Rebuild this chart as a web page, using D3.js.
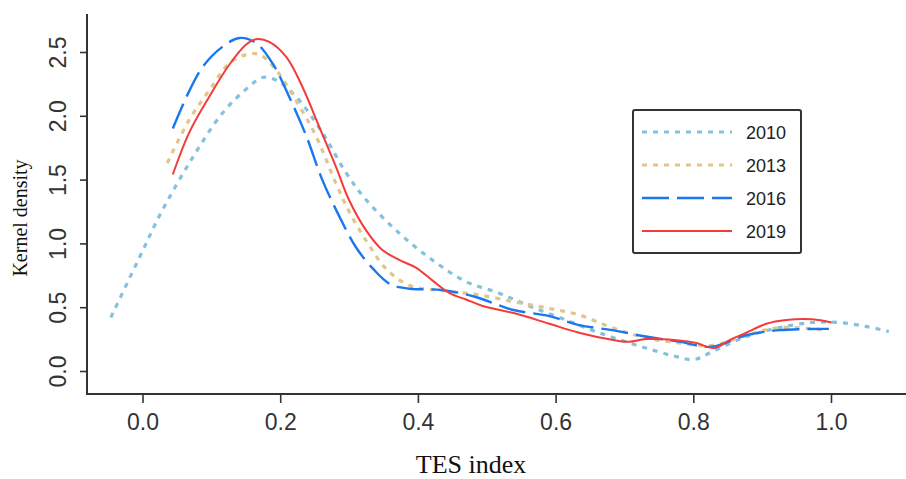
<!DOCTYPE html>
<html>
<head>
<meta charset="utf-8">
<script src="https://cdn.jsdelivr.net/npm/d3@7"></script>
<style>
  html, body { margin: 0; padding: 0; background: #fff; }
  svg { display: block; }
</style>
</head>
<body>
<svg id="chart" width="906" height="479"></svg>
<script>
// Kernel density estimates of the TES index by year
const years = ["2010", "2013", "2016", "2019"];

const x2010 = [-0.046, 0.0, 0.025, 0.068, 0.116, 0.155, 0.174, 0.194, 0.223, 0.261, 0.296, 0.325, 0.373, 0.421, 0.470, 0.518, 0.566, 0.615, 0.653, 0.690, 0.731, 0.770, 0.801, 0.827, 0.877, 0.925, 0.973, 1.012, 1.050, 1.084];
const d2010 = [0.42, 0.94, 1.22, 1.63, 2.02, 2.23, 2.30, 2.28, 2.15, 1.87, 1.55, 1.34, 1.08, 0.87, 0.70, 0.61, 0.50, 0.40, 0.32, 0.25, 0.18, 0.12, 0.09, 0.15, 0.27, 0.34, 0.38, 0.38, 0.35, 0.31];

const x2013 = [0.036, 0.068, 0.097, 0.126, 0.151, 0.170, 0.194, 0.223, 0.252, 0.281, 0.300, 0.325, 0.354, 0.388, 0.435, 0.484, 0.542, 0.591, 0.634, 0.682, 0.731, 0.779, 0.827, 0.877, 0.925, 0.993];
const d2013 = [1.63, 1.97, 2.20, 2.41, 2.48, 2.48, 2.36, 2.12, 1.84, 1.47, 1.25, 1.02, 0.80, 0.67, 0.63, 0.60, 0.54, 0.49, 0.44, 0.34, 0.26, 0.22, 0.20, 0.28, 0.34, 0.32];

const x2016 = [0.044, 0.064, 0.087, 0.116, 0.141, 0.165, 0.189, 0.213, 0.238, 0.261, 0.286, 0.310, 0.335, 0.360, 0.388, 0.435, 0.484, 0.537, 0.591, 0.634, 0.682, 0.731, 0.779, 0.827, 0.877, 0.925, 0.997];
const d2016 = [1.90, 2.15, 2.38, 2.54, 2.61, 2.57, 2.41, 2.15, 1.84, 1.50, 1.21, 0.97, 0.80, 0.68, 0.645, 0.635, 0.58, 0.48, 0.43, 0.36, 0.32, 0.27, 0.23, 0.19, 0.28, 0.32, 0.33];

const x2019 = [0.044, 0.068, 0.097, 0.126, 0.151, 0.165, 0.184, 0.209, 0.232, 0.257, 0.281, 0.300, 0.325, 0.348, 0.373, 0.397, 0.421, 0.446, 0.470, 0.494, 0.542, 0.591, 0.634, 0.682, 0.707, 0.731, 0.779, 0.804, 0.830, 0.852, 0.877, 0.906, 0.935, 0.973, 1.001];
const d2019 = [1.54, 1.87, 2.15, 2.40, 2.56, 2.60, 2.58, 2.46, 2.23, 1.91, 1.60, 1.34, 1.10, 0.95, 0.87, 0.81, 0.71, 0.61, 0.56, 0.51, 0.45, 0.37, 0.30, 0.245, 0.23, 0.25, 0.24, 0.22, 0.18, 0.24, 0.30, 0.37, 0.40, 0.405, 0.38];

const xTicks = [0, 0.2, 0.4, 0.6, 0.8, 1.0];
const yTicks = [0, 0.5, 1.0, 1.5, 2.0, 2.5];

const series = [
  { name: years[0], xs: x2010, ys: d2010, color: "#84c1de", width: 3.2, dash: "5,6" },
  { name: years[1], xs: x2013, ys: d2013, color: "#e2c589", width: 3.2, dash: "5,6" },
  { name: years[2], xs: x2016, ys: d2016, color: "#1a78ef", width: 2.4, dash: "27,8" },
  { name: years[3], xs: x2019, ys: d2019, color: "#f53a3a", width: 2.0, dash: null }
];

const svg = d3.select("#chart");
const x = d3.scaleLinear().domain([0, 1]).range([142.5, 831]);
const y = d3.scaleLinear().domain([0, 2.5]).range([371, 52]);

const axisColor = "#333";
const axisLeftX = 87, axisBottomY = 394;

// Axis lines (L-shaped frame)
svg.append("line").attr("x1", axisLeftX).attr("x2", axisLeftX)
  .attr("y1", 14).attr("y2", axisBottomY + 1)
  .attr("stroke", axisColor).attr("stroke-width", 2);
svg.append("line").attr("x1", axisLeftX - 1).attr("x2", 906)
  .attr("y1", axisBottomY).attr("y2", axisBottomY)
  .attr("stroke", axisColor).attr("stroke-width", 2);

// X axis ticks and labels
const xAxis = d3.axisBottom(x).tickValues(xTicks).tickFormat(d3.format(".1f"))
  .tickSize(9).tickPadding(10);
const gx = svg.append("g").attr("transform", `translate(0,${axisBottomY})`).call(xAxis);
gx.select(".domain").remove();
gx.selectAll(".tick line").attr("stroke", axisColor).attr("stroke-width", 1.6);
gx.selectAll(".tick text").attr("fill", "#333")
  .style("font-family", "'Liberation Sans', Arial, sans-serif").style("font-size", "23px")
  .attr("dy", null).attr("y", 36);

// Y axis ticks and rotated labels
const yAxis = d3.axisLeft(y).tickValues(yTicks).tickFormat(d3.format(".1f")).tickSize(7);
const gy = svg.append("g").attr("transform", `translate(${axisLeftX},0)`).call(yAxis);
gy.select(".domain").remove();
gy.selectAll(".tick line").attr("stroke", axisColor).attr("stroke-width", 1.6);
gy.selectAll(".tick text")
  .attr("x", null).attr("dy", null)
  .attr("transform", "translate(-21,0) rotate(-90)")
  .attr("text-anchor", "middle")
  .attr("fill", "#333")
  .style("font-family", "'Liberation Sans', Arial, sans-serif").style("font-size", "23px");

// Axis titles
svg.append("text").attr("x", 471).attr("y", 473).attr("text-anchor", "middle")
  .style("font-family", "'Liberation Serif', 'Times New Roman', serif").style("font-size", "26px")
  .attr("fill", "#111").text("TES index");
svg.append("text").attr("transform", "translate(27,218) rotate(-90)").attr("text-anchor", "middle")
  .style("font-family", "'Liberation Serif', 'Times New Roman', serif").style("font-size", "20px")
  .attr("fill", "#111").text("Kernel density");

// Density curves
const line = d3.line().curve(d3.curveCatmullRom.alpha(0.5));
series.forEach(s => {
  const pts = s.xs.map((v, i) => [x(v), y(s.ys[i])]);
  svg.append("path").attr("d", line(pts))
    .attr("fill", "none").attr("stroke", s.color).attr("stroke-width", s.width)
    .attr("stroke-dasharray", s.dash).attr("stroke-linecap", "butt");
});

// Legend
const lg = svg.append("g");
lg.append("rect").attr("x", 633).attr("y", 110).attr("width", 168).attr("height", 143)
  .attr("rx", 2).attr("fill", "#fff").attr("stroke", axisColor).attr("stroke-width", 2);
series.forEach((s, i) => {
  const yy = 132 + i * 33;
  lg.append("line").attr("x1", 642).attr("x2", 732).attr("y1", yy).attr("y2", yy)
    .attr("stroke", s.color).attr("stroke-width", s.width).attr("stroke-dasharray", s.dash);
  lg.append("text").attr("x", 746).attr("y", yy + 6.5)
    .style("font-family", "'Liberation Sans', Arial, sans-serif").style("font-size", "18px")
    .attr("fill", "#222").text(s.name);
});
</script>
</body>
</html>
